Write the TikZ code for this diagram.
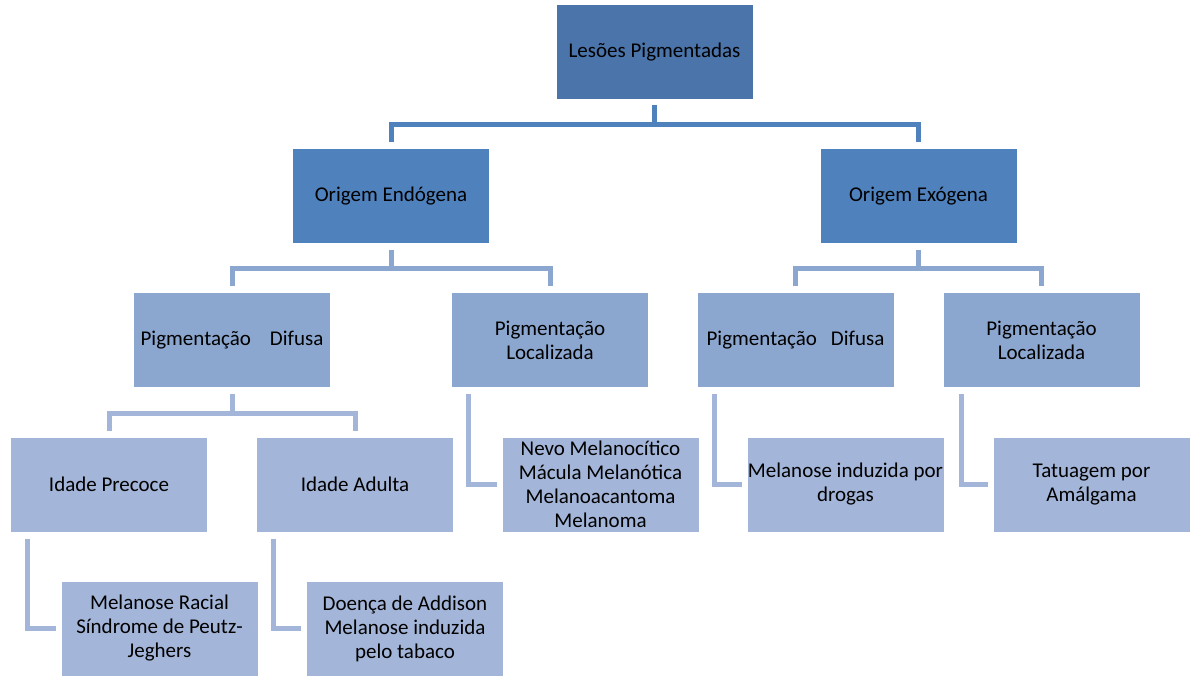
\documentclass[tikz,border=0pt]{standalone}
\usepackage{fontspec}
\setmainfont{Carlito}
\definecolor{cA}{HTML}{4A74AA}
\definecolor{cB}{HTML}{4F81BD}
\definecolor{cC}{HTML}{8CA7CF}
\definecolor{cD}{HTML}{A3B5D8}
\tikzset{
  box/.style={rectangle, draw=white, line width=1pt, minimum width=197pt, minimum height=95pt,
    inner sep=0pt, align=center, text=black, font=\fontsize{21}{24}\selectfont},
  b1/.style={box, fill=cA},
  b2/.style={box, fill=cB},
  b3/.style={box, fill=cC},
  b4/.style={box, fill=cD},
  conn/.style={line width=5pt, line join=miter},
  c1/.style={conn, draw=cB},
  c2/.style={conn, draw=cC},
  c3/.style={conn, draw=cD}
}
\begin{document}
\begin{tikzpicture}[x=1pt, y=-1pt]
\useasboundingbox (0,0) rectangle (1192,676);
\node[b1] (top) at (654.5,52.5) {Lesões Pigmentadas};
\node[b2] (endo) at (391,196) {Origem Endógena};
\node[b2] (exo) at (918.5,196) {Origem Exógena};
\node[b3] (pd1) at (232,340.5) {Pigmentação\hspace{19pt}Difusa};
\node[b3] (pl1) at (550,340.5) {Pigmentação\\Localizada};
\node[b3] (pd2) at (795.5,340.5) {Pigmentação\hspace{14pt}Difusa};
\node[b3] (pl2) at (1041.5,340.5) {Pigmentação\\Localizada};
\node[b4] (ip) at (109,484.5) {Idade Precoce};
\node[b4] (ia) at (355,484.5) {Idade Adulta};
\node[b4] (nevo) at (600.5,484.5) {Nevo Melanocítico\\Mácula Melanótica\\Melanoacantoma\\Melanoma};
\node[b4] (drog) at (845.5,484.5) {Melanose induzida por\\drogas};
\node[b4] (tat) at (1091.5,484.5) {Tatuagem por\\Amálgama};
\node[b4] (mr) at (159.5,628.5) {Melanose Racial\\Síndrome de Peutz-\\Jeghers};
\node[b4] (da) at (405,628.5) {Doença de Addison\\Melanose induzida\\pelo tabaco};
\coordinate (bus1) at (0,124.5);
\coordinate (bus2) at (0,269);
\coordinate (bus3) at (0,413);
% level 1
\draw[c1] ([yshift=-5pt]top.south) -- (top.south |- bus1);
\draw[c1] ([yshift=6pt]endo.north) |- (exo.north |- bus1) -- ([yshift=6pt]exo.north);
% level 2
\draw[c2] ([yshift=-6pt]endo.south) -- (endo.south |- bus2);
\draw[c2] ([yshift=6pt]pd1.north) |- (pl1.north |- bus2) -- ([yshift=6pt]pl1.north);
\draw[c2] ([yshift=-6pt]exo.south) -- (exo.south |- bus2);
\draw[c2] ([yshift=6pt]pd2.north) |- (pl2.north |- bus2) -- ([yshift=6pt]pl2.north);
% level 3
\draw[c3] ([yshift=-6pt]pd1.south) -- (pd1.south |- bus3);
\draw[c3] ([yshift=6pt]ip.north) |- (ia.north |- bus3) -- ([yshift=6pt]ia.north);
\draw[c3] ([xshift=17.5pt,yshift=-6pt]pl1.south west) |- ([xshift=-5pt]nevo.west);
\draw[c3] ([xshift=18pt,yshift=-6pt]pd2.south west) |- ([xshift=-5pt]drog.west);
\draw[c3] ([xshift=19pt,yshift=-6pt]pl2.south west) |- ([xshift=-5pt]tat.west);
% level 4
\draw[c3] ([xshift=17pt,yshift=-6pt]ip.south west) |- ([xshift=-5pt]mr.west);
\draw[c3] ([xshift=17pt,yshift=-6pt]ia.south west) |- ([xshift=-5pt]da.west);
\end{tikzpicture}
\end{document}
